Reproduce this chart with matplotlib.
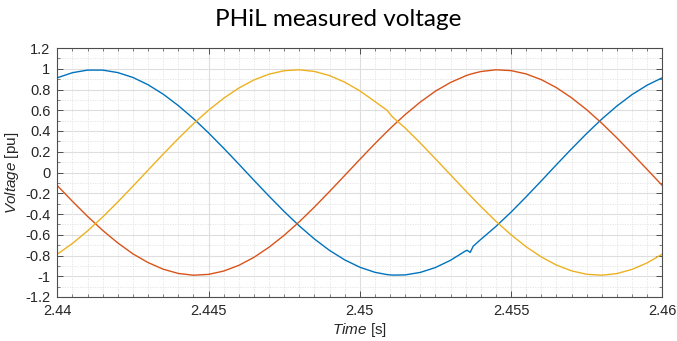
import matplotlib
matplotlib.use("Agg")
import matplotlib.pyplot as plt
from matplotlib.ticker import MultipleLocator, FuncFormatter

# time stamps [s] and three phase voltages [pu]
time_s = [
    2.4400, 2.4405, 2.4410, 2.4415, 2.4420, 2.4425, 2.4430, 2.4435, 2.4440, 2.4445,
    2.4450, 2.4455, 2.4460, 2.4465, 2.4470, 2.4475, 2.4480, 2.4485, 2.4490, 2.4495,
    2.4500, 2.4505, 2.4509, 2.4510, 2.4511, 2.4515, 2.4520, 2.4525, 2.4530, 2.4535,
    2.45355, 2.45365, 2.45375, 2.4540, 2.4545, 2.4550, 2.4555, 2.4560, 2.4565, 2.4570,
    2.4575, 2.4580, 2.4585, 2.4590, 2.4595, 2.4600,
]
phase_a = [
    0.913, 0.962, 0.987, 0.987, 0.963, 0.916, 0.846, 0.755, 0.645, 0.520,
    0.382, 0.234, 0.081, -0.075, -0.228, -0.376, -0.515, -0.641, -0.751, -0.842,
    -0.913, -0.962, -0.984, -0.987, -0.989, -0.987, -0.963, -0.916, -0.846, -0.755,
    -0.750, -0.770, -0.710, -0.645, -0.520, -0.382, -0.234, -0.081, 0.075, 0.228,
    0.376, 0.515, 0.641, 0.751, 0.842, 0.913,
]
phase_b = [
    -0.126, -0.278, -0.423, -0.558, -0.679, -0.784, -0.868, -0.932, -0.973, -0.990,
    -0.982, -0.950, -0.895, -0.818, -0.720, -0.605, -0.475, -0.333, -0.183, -0.029,
    0.126, 0.278, 0.395, 0.423, 0.451, 0.558, 0.679, 0.784, 0.868, 0.932,
    0.937, 0.947, 0.955, 0.973, 0.990, 0.982, 0.950, 0.895, 0.818, 0.720,
    0.605, 0.475, 0.333, 0.183, 0.029, -0.126,
]
phase_c = [
    -0.787, -0.684, -0.563, -0.429, -0.284, -0.132, 0.023, 0.177, 0.327, 0.470,
    0.600, 0.716, 0.814, 0.892, 0.948, 0.981, 0.990, 0.974, 0.934, 0.871,
    0.787, 0.684, 0.600, 0.563, 0.530, 0.429, 0.284, 0.132, -0.023, -0.177,
    -0.192, -0.223, -0.253, -0.327, -0.470, -0.600, -0.716, -0.814, -0.892, -0.948,
    -0.981, -0.990, -0.974, -0.934, -0.871, -0.787,
]

plt.rcParams["font.family"] = ["Liberation Sans", "DejaVu Sans"]
plt.rcParams["mathtext.fontset"] = "custom"
plt.rcParams["mathtext.it"] = "Liberation Sans:italic"
plt.rcParams["mathtext.rm"] = "Liberation Sans"

fig = plt.figure(figsize=(6.77, 3.41), dpi=100)
ax = fig.add_axes([57.3 / 677, 1 - 297 / 341, 605 / 677, 249 / 341])

ax.plot(time_s, phase_a, color="#0072BD", lw=1.0)
ax.plot(time_s, phase_b, color="#D95319", lw=1.0)
ax.plot(time_s, phase_c, color="#EDB120", lw=1.0)

ax.set_xlim(2.44, 2.46)
ax.set_ylim(-1.2, 1.2)
ax.xaxis.set_major_locator(MultipleLocator(0.005))
ax.xaxis.set_minor_locator(MultipleLocator(0.0005))
ax.yaxis.set_major_locator(MultipleLocator(0.2))
ax.yaxis.set_minor_locator(MultipleLocator(0.1))
fmt = FuncFormatter(lambda v, p: "%g" % round(v, 4))
ax.xaxis.set_major_formatter(fmt)
ax.yaxis.set_major_formatter(fmt)

ax.grid(which="major", color="#dedede", lw=0.8, ls="-")
ax.grid(which="minor", color="#e2e2e2", lw=0.6, ls=(0, (1.5, 1.5)))
ax.set_axisbelow(True)

ax.tick_params(which="both", direction="in", top=True, right=True,
               colors="#4d4d4d", labelcolor="#262626", labelsize=10.5)
ax.tick_params(which="major", length=4.5, width=0.7, pad=5)
ax.tick_params(which="minor", length=2.2, width=0.5)
for s in ax.spines.values():
    s.set_color("#4d4d4d")
    s.set_linewidth(0.8)

ax.set_xlabel(r"$\mathit{Time}$ [s]", fontsize=11, color="#262626", labelpad=2)
ax.set_ylabel(r"$\mathit{Voltage}$ [pu]", fontsize=11, color="#262626", labelpad=3)

fig.text(0.5, 1 - 19 / 341, "PHiL measured voltage", fontsize=17.5,
         family=["Lato", "DejaVu Sans"], ha="center", va="center")

fig.savefig("out.png", dpi=100)
